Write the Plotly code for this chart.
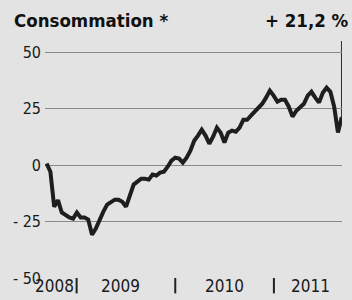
import plotly.graph_objects as go

# ---- data ----
dates = [
    "2008-09-12", "2008-09-26", "2008-10-10", "2008-10-24", "2008-11-07", "2008-11-21",
    "2008-12-05", "2008-12-19",
    "2009-01-02", "2009-01-16", "2009-01-30", "2009-02-13", "2009-02-27", "2009-03-13",
    "2009-03-27", "2009-04-10", "2009-04-24", "2009-05-08", "2009-05-22", "2009-06-05",
    "2009-06-19", "2009-07-03", "2009-07-17", "2009-07-31", "2009-08-14", "2009-08-28",
    "2009-09-11", "2009-09-25", "2009-10-09", "2009-10-23", "2009-11-06", "2009-11-20",
    "2009-12-04", "2009-12-18",
    "2010-01-01", "2010-01-15", "2010-01-29", "2010-02-12", "2010-02-26", "2010-03-12",
    "2010-03-26", "2010-04-09", "2010-04-23", "2010-05-07", "2010-05-21", "2010-06-04",
    "2010-06-18", "2010-07-02", "2010-07-16", "2010-07-30", "2010-08-13", "2010-08-27",
    "2010-09-10", "2010-09-24", "2010-10-08", "2010-10-22", "2010-11-05", "2010-11-19",
    "2010-12-03", "2010-12-17", "2010-12-31",
    "2011-01-14", "2011-01-28", "2011-02-11", "2011-02-25", "2011-03-11", "2011-03-25",
    "2011-04-08", "2011-04-22", "2011-05-06", "2011-05-20", "2011-06-03", "2011-06-17",
    "2011-07-01", "2011-07-15", "2011-07-29", "2011-08-12", "2011-08-26", "2011-09-09",
]
values = [
    0.7, -2.9, -18.4, -15.5, -21.0, -22.3, -23.2, -23.7,
    -21.0, -23.2, -23.2, -24.1, -30.8, -28.1, -24.1, -20.6, -17.5, -16.6,
    -15.3, -15.3, -16.2, -18.4, -13.9, -8.6, -7.3, -6.0, -6.0, -6.4,
    -4.2, -4.6, -3.3, -2.9, -0.7, 2.0,
    3.3, 2.9, 1.1, 3.3, 6.4, 10.8, 13.1, 15.7, 13.1, 9.5, 12.6, 16.6,
    14.4, 10.0, 14.4, 15.3, 14.8, 16.6, 20.1, 20.1, 21.9, 23.7, 25.4, 27.2,
    29.9, 33.0, 30.8,
    28.1, 29.0, 29.0, 25.9, 21.5, 24.1, 25.9, 27.2, 30.8, 32.5, 29.9, 27.7,
    32.1, 34.3, 32.5, 25.9, 14.5, 21.2,
]
y_tickvals = [50, 25, 0, -25, -50]
y_ticktext = ["50", "25", "0", "- 25", "- 50"]
year_labels = ["2008", "2009", "2010", "2011"]
year_label_pos = ["2008-10-10", "2009-06-13", "2010-07-04", "2011-05-18"]
year_bounds = ["2009-01-01", "2010-01-01", "2011-01-01"]
title_text = "Consommation *"
change_text = "+ 21,2 %"

BG = "#e3e3e3"
FONT = "Liberation Sans Narrow, Arial Narrow, DejaVu Sans Condensed, sans-serif"
Y_TOP = 55

fig = go.Figure()
fig.add_trace(go.Scatter(
    x=dates, y=values, mode="lines",
    line=dict(color="#1e1e1e", width=4, shape="linear"),
    hoverinfo="skip", showlegend=False,
))

# vertical marker line from last value up to the top
fig.add_shape(type="line", xref="x", yref="y",
              x0=dates[-1], x1=dates[-1], y0=values[-1], y1=Y_TOP,
              line=dict(color="#333333", width=1.5), layer="below")

# year separators
for b in year_bounds:
    fig.add_shape(type="line", xref="x", yref="paper",
                  x0=b, x1=b, y0=0, y1=-0.065,
                  line=dict(color="#222222", width=2))

for lab, pos in zip(year_labels, year_label_pos):
    fig.add_annotation(x=pos, y=0, xref="x", yref="paper",
                       text=lab, showarrow=False, yanchor="top", xanchor="center",
                       yshift=4,
                       font=dict(family=FONT, size=17, color="#1a1a1a"))

fig.add_annotation(x=0, y=1, xref="paper", yref="paper", text=f"<b>{title_text}</b>",
                   showarrow=False, xanchor="left", yanchor="middle",
                   xshift=-33, yshift=21,
                   font=dict(family=FONT, size=18.5, color="#111111"))
fig.add_annotation(x=1, y=1, xref="paper", yref="paper", text=f"<b>{change_text}</b>",
                   showarrow=False, xanchor="right", yanchor="middle",
                   xshift=9, yshift=21,
                   font=dict(family=FONT, size=18.5, color="#111111"))

fig.update_layout(
    width=352, height=300,
    margin=dict(l=45, r=10, t=41, b=22),
    paper_bgcolor=BG, plot_bgcolor=BG,
    showlegend=False,
    xaxis=dict(range=["2008-09-06", "2011-09-10"], showgrid=False, zeroline=False,
               showticklabels=False, ticks="", showline=False, fixedrange=True),
    yaxis=dict(range=[-50, Y_TOP], tickvals=y_tickvals, ticktext=y_ticktext,
               showgrid=True, gridcolor="#8a8a8a", gridwidth=1, zeroline=False,
               ticks="", showline=False, ticklabelstandoff=3, fixedrange=True,
               tickfont=dict(family=FONT, size=16, color="#1a1a1a")),
)

fig.write_html("out.html", config={"displayModeBar": False},
               post_script="document.body.style.margin='0';document.body.style.background='#e3e3e3';")
